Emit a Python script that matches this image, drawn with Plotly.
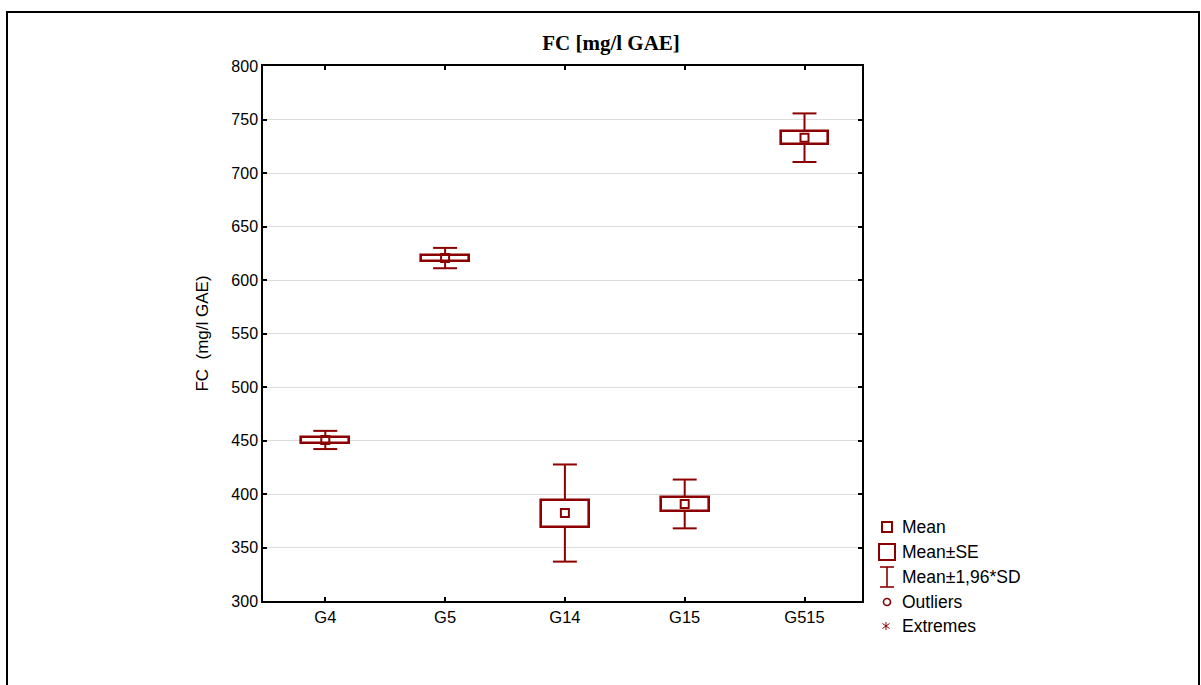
import plotly.graph_objects as go

# Group statistics for total phenolics (Folin–Ciocalteu), mg/l GAE
groups = ["G4", "G5", "G14", "G15", "G515"]
means = [450.5, 620.5, 382.2, 390.7, 733.0]
se = [2.4, 2.9, 12.6, 6.2, 6.2]
sd196 = [8.5, 9.5, 45.4, 22.8, 22.7]

y_ticks = [300, 350, 400, 450, 500, 550, 600, 650, 700, 750, 800]

RED = "#8B0000"
FONT = "Arial, Liberation Sans, sans-serif"

W, H = 1201, 685
ML, MR, MT, MB = 263, 339, 66, 84
PW, PH = W - ML - MR, H - MT - MB

BOX_W = 0.4
CAP_HALF = 0.1


def px(x):
    return (x - ML) / PW


def py(y):
    return (H - MB - y) / PH


xs = list(range(len(groups)))

# whiskers: from box edges out to mean ± 1.96*SD, with caps
wx, wy = [], []
for i, m, s, d in zip(xs, means, se, sd196):
    for sgn in (1, -1):
        wx += [i, i, None, i - CAP_HALF, i + CAP_HALF, None]
        wy += [m + sgn * s, m + sgn * d, None, m + sgn * d, m + sgn * d, None]

fig = go.Figure()

fig.add_trace(go.Scatter(
    x=wx, y=wy, mode="lines",
    line=dict(color=RED, width=2),
    hoverinfo="skip", showlegend=False,
))

# mean ± SE boxes
fig.add_trace(go.Bar(
    x=xs,
    y=[2 * s for s in se],
    base=[m - s for m, s in zip(means, se)],
    width=BOX_W,
    marker=dict(color="white", line=dict(color=RED, width=2.6)),
    showlegend=False,
))

# means
fig.add_trace(go.Scatter(
    x=xs, y=means, mode="markers",
    marker=dict(symbol="square-open", size=8, color=RED, line=dict(width=2)),
    showlegend=False,
))

shapes = []
annotations = []

# outer frame
shapes.append(dict(type="rect", xref="paper", yref="paper",
                   x0=px(7), x1=px(1199), y0=py(720), y1=py(12),
                   line=dict(color="black", width=2)))

# legend keys
lx = 887
shapes += [
    dict(type="rect", xref="paper", yref="paper",
         x0=px(lx - 5), x1=px(lx + 5), y0=py(532), y1=py(522),
         line=dict(color=RED, width=2)),
    dict(type="rect", xref="paper", yref="paper",
         x0=px(lx - 8), x1=px(lx + 8), y0=py(560), y1=py(544),
         line=dict(color=RED, width=2)),
    dict(type="line", xref="paper", yref="paper",
         x0=px(lx), x1=px(lx), y0=py(587), y1=py(567),
         line=dict(color=RED, width=1.6)),
    dict(type="line", xref="paper", yref="paper",
         x0=px(lx - 7), x1=px(lx + 7), y0=py(567), y1=py(567),
         line=dict(color=RED, width=1.6)),
    dict(type="line", xref="paper", yref="paper",
         x0=px(lx - 7), x1=px(lx + 7), y0=py(587), y1=py(587),
         line=dict(color=RED, width=1.6)),
    dict(type="circle", xref="paper", yref="paper",
         x0=px(lx - 3.5), x1=px(lx + 3.5), y0=py(605.5), y1=py(598.5),
         line=dict(color=RED, width=1.6)),
    dict(type="line", xref="paper", yref="paper",
         x0=px(lx - 1), x1=px(lx - 1), y0=py(630), y1=py(622),
         line=dict(color=RED, width=1)),
    dict(type="line", xref="paper", yref="paper",
         x0=px(lx - 4.5), x1=px(lx + 2.5), y0=py(628.5), y1=py(623.5),
         line=dict(color=RED, width=1)),
    dict(type="line", xref="paper", yref="paper",
         x0=px(lx - 4.5), x1=px(lx + 2.5), y0=py(623.5), y1=py(628.5),
         line=dict(color=RED, width=1)),
]

legend_labels = ["Mean", "Mean±SE", "Mean±1,96*SD", "Outliers", "Extremes"]
legend_rows = [527, 552, 577, 602, 626]
for lab, ry in zip(legend_labels, legend_rows):
    annotations.append(dict(
        text=lab, xref="paper", yref="paper", x=px(900), y=py(ry),
        xanchor="left", yanchor="middle", showarrow=False,
        font=dict(family=FONT, size=17.5, color="black"),
    ))

fig.update_layout(
    width=W, height=H,
    margin=dict(l=ML, r=MR, t=MT, b=MB),
    paper_bgcolor="white", plot_bgcolor="white",
    title=dict(text="<b>FC [mg/l GAE]</b>", xref="container",
               x=611 / W, xanchor="center",
               y=1 - 43 / H, yanchor="middle",
               font=dict(family="Times New Roman, Liberation Serif, serif",
                         size=21, color="black")),
    font=dict(family=FONT, size=16, color="black"),
    shapes=shapes,
    annotations=annotations,
    showlegend=False,
    bargap=0,
)

fig.update_xaxes(
    range=[-0.52, 4.48],
    tickvals=xs, ticktext=groups,
    ticks="inside", ticklen=4, tickwidth=1.5, tickcolor="black",
    showline=True, linecolor="black", linewidth=1.5, mirror="ticks",
    showgrid=False, zeroline=False,
    tickfont=dict(family=FONT, size=16.5, color="black"),
)
fig.update_yaxes(
    range=[300, 800],
    tickvals=y_ticks,
    ticks="inside", ticklen=4, tickwidth=1.5, tickcolor="black",
    showline=True, linecolor="black", linewidth=1.5, mirror="ticks",
    showgrid=True, gridcolor="#DCDCDC", gridwidth=1, zeroline=False,
    tickfont=dict(family=FONT, size=16, color="black"),
    title=dict(text="FC  (mg/l GAE)", standoff=18,
               font=dict(family=FONT, size=17, color="black")),
)

fig.write_html("out.html")
